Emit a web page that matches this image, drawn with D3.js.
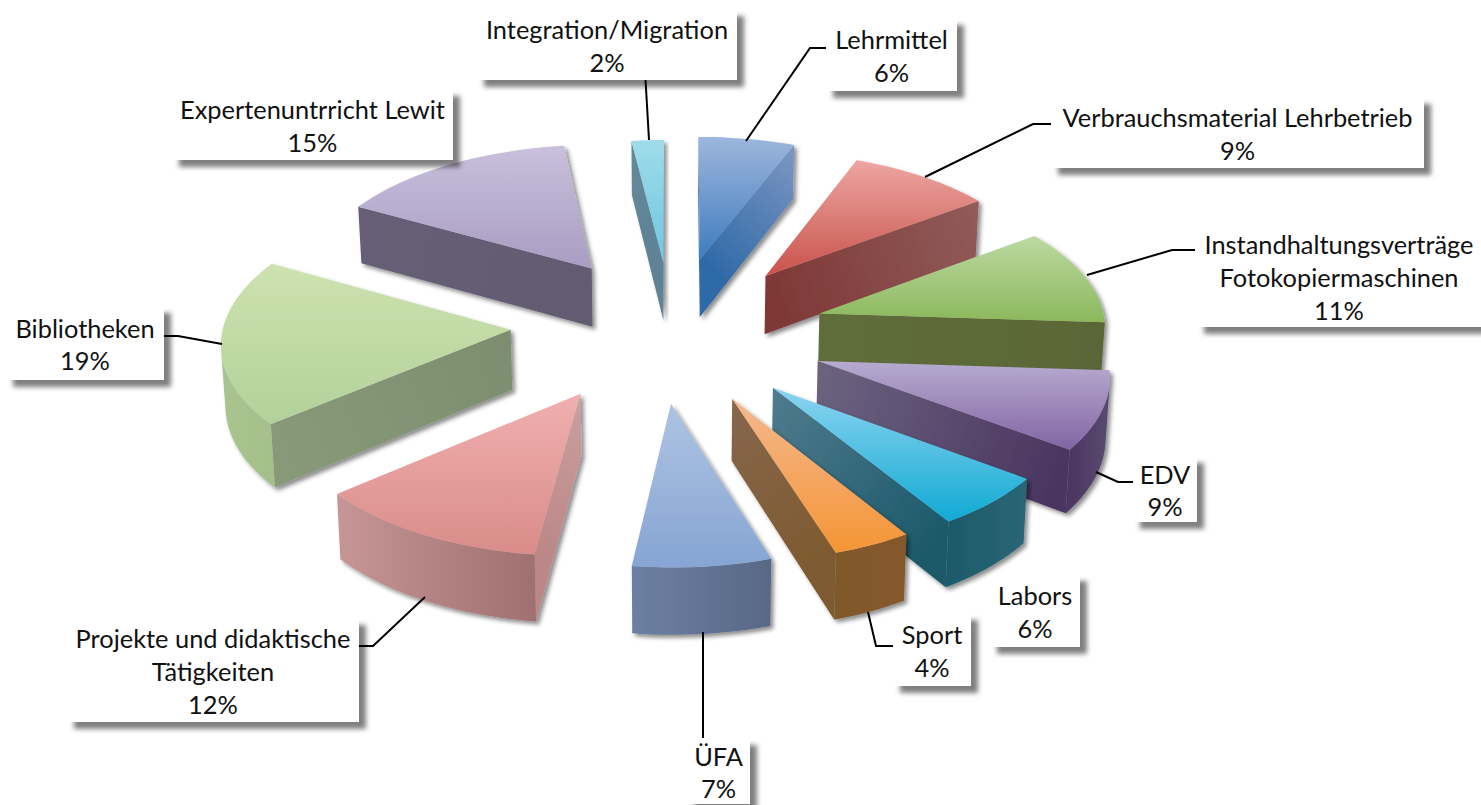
<!DOCTYPE html>
<html lang="de">
<head>
<meta charset="UTF-8"/>
<title>Exploded 3D pie</title>
<script src="https://d3js.org/d3.v7.min.js"></script>
<style>
  html, body { margin: 0; padding: 0; background: #fff; overflow: hidden; }
  text { font-family: Lato, "Open Sans", sans-serif; font-size: 25.4px; fill: #111; text-anchor: middle; }
</style>
</head>
<body>
<script>
var w = 1481, h = 805;

// data, clockwise from 12 o'clock
var categories = ["Lehrmittel", "Verbrauchsmaterial Lehrbetrieb", "Instandhaltungsverträge Fotokopiermaschinen",
                  "EDV", "Labors", "Sport", "ÜFA", "Projekte und didaktische Tätigkeiten",
                  "Bibliotheken", "Expertenuntrricht Lewit", "Integration/Migration"];
var values = [6, 9, 11, 9, 6, 4, 7, 12, 19, 15, 2];
var labelLines = [["Lehrmittel"], ["Verbrauchsmaterial Lehrbetrieb"], ["Instandhaltungsverträge", "Fotokopiermaschinen"],
                  ["EDV"], ["Labors"], ["Sport"], ["ÜFA"], ["Projekte und didaktische", "Tätigkeiten"],
                  ["Bibliotheken"], ["Expertenuntrricht Lewit"], ["Integration/Migration"]];

// colours: top face light -> dark, radial wall apex -> rim, outer wall left -> right
var topLight  = ["#9db6dc", "#eda6a2", "#bcd9a2", "#b7abd0", "#8dd4f0", "#f3b88e", "#aec3e2", "#f0b0ae", "#cde2b0", "#c8c0dc", "#9fdcea"];
var topDark   = ["#3f7cbf", "#c9534c", "#8cb85c", "#8265a3", "#10aad4", "#f59535", "#86a5d3", "#d98c8a", "#b3d19a", "#a99dc2", "#6fc6e0"];
var cutInner  = ["#2f6aa8", "#7e3836", "#5f6e3a", "#6c6480", "#507b8e", "#86674d", "#6d80a3", "#c9a0a0", "#7c8e6e", "#625b72", "#5e8296"];
var cutOuter  = ["#7e97c2", "#905c5a", "#5a6638", "#4a3560", "#1c5a6a", "#7e5a30", "#586885", "#bb8787", "#88997a", "#665f75", "#66899a"];
var rimLeft   = ["#7e97c2", "#905c5a", "#5a6638", "#4a3560", "#1c5a6a", "#80582c", "#6d80a3", "#c69596", "#a9c48f", "#665f75", "#66899a"];
var rimRight  = ["#7e97c2", "#905c5a", "#5a6638", "#5a4a70", "#2a6676", "#85592a", "#586885", "#a06f70", "#a5bf8b", "#665f75", "#66899a"];

// how each slice sits in the picture
var explode = [0.5, 0.5, 0.5, 0.5, 0.5, 0.5, 0.5, 0.5, 0.5, 0.5, 0.5];
var nudgeX  = [-1, 5, 8, 6, -3, -6, -18, -23, -21, -5, -3];
var nudgeY  = [-4, 0, 3, 7, 5, 3, 1, 0, -7, -5, 0];

// label boxes [x0, y0, x1, y1] and leader lines
var boxes = [[826, 18, 957, 91], [1051, 97, 1424, 168], [1197, 225, 1481, 327], [1133, 456, 1197, 522],
             [990, 574, 1080, 647], [893, 613, 971, 686], [687, 738, 750, 804], [67, 618, 359, 722],
             [6, 306, 164, 380], [172, 89, 453, 160], [477, 9, 737, 80]];
var leaders = [[[831, 48], [810, 48], [746, 141]],
               [[1056, 124], [1033, 124], [925, 177]],
               [[1195, 250], [1172, 250], [1087, 275]],
               [[1133, 482], [1118, 482], [1096, 472]],
               null,
               [[893, 646], [876, 646], [868, 612]],
               [[703, 738], [703, 632]],
               [[358, 646], [373, 646], [425, 597]],
               [[164, 336], [178, 336], [222, 344]],
               null,
               [[633, 71], [645, 71], [649, 140]]];

// projection of the pie plane, u to the right, v to the back, radius = 1
var cx = 675, cy = 330, scaleU = 287, scaleV = 140.6, persp = 0.073, depth = 60;

function project(u, v, i, low) {
  var d = 1 + persp * v;
  var x = cx + scaleU * u / d + nudgeX[i];
  var y = cy - scaleV * v / d + nudgeY[i];
  if (low) {
    x = cx + (x - cx) * 0.99;
    y += depth / d;
  }
  return [x, y];
}

var pie = d3.pie().sort(null).value(function(d) { return d; });
var arcs = pie(values);

var svg = d3.select("body").append("svg")
    .attr("width", w)
    .attr("height", h);

var defs = svg.append("defs");
var f1 = defs.append("filter").attr("id", "sliceShadow")
    .attr("x", "-10%").attr("y", "-10%").attr("width", "125%").attr("height", "125%");
f1.append("feDropShadow").attr("dx", 3).attr("dy", 3).attr("stdDeviation", 2)
    .attr("flood-color", "#000").attr("flood-opacity", 0.45);
var f2 = defs.append("filter").attr("id", "boxShadow")
    .attr("filterUnits", "userSpaceOnUse")
    .attr("x", 0).attr("y", 0).attr("width", w).attr("height", h);
f2.append("feDropShadow").attr("dx", 7).attr("dy", 7).attr("stdDeviation", 2.5)
    .attr("flood-color", "#000").attr("flood-opacity", 0.5);

function gradient(id, c0, c1, x1, y1, x2, y2) {
  var g = defs.append("linearGradient").attr("id", id);
  if (x1 === undefined) {
    g.attr("x1", 0).attr("y1", 0).attr("x2", 0).attr("y2", 1);
  } else {
    g.attr("gradientUnits", "userSpaceOnUse").attr("x1", x1).attr("y1", y1).attr("x2", x2).attr("y2", y2);
  }
  g.append("stop").attr("offset", 0).attr("stop-color", c0);
  g.append("stop").attr("offset", 1).attr("stop-color", c1);
  return "url(#" + id + ")";
}

var line = d3.line();
var polygon = function(pts) { return line(pts) + "Z"; };

function facesViewer(p, q, pLow) {
  return (q[0] - p[0]) * (pLow[1] - p[1]) - (q[1] - p[1]) * (pLow[0] - p[0]) < -0.01;
}

// back slices first
var order = d3.range(arcs.length).sort(function(a, b) {
  var ma = (arcs[a].startAngle + arcs[a].endAngle) / 2;
  var mb = (arcs[b].startAngle + arcs[b].endAngle) / 2;
  return Math.cos(mb) - Math.cos(ma);
});

order.forEach(function(i) {
  var a = arcs[i];
  var mid = (a.startAngle + a.endAngle) / 2;
  var ou = explode[i] * Math.sin(mid);
  var ov = explode[i] * Math.cos(mid);
  var steps = Math.max(4, Math.round((a.endAngle - a.startAngle) / 0.03));
  var angle = d3.scaleLinear().domain([0, steps]).range([a.startAngle, a.endAngle]);

  var rim = d3.range(steps + 1).map(function(k) {
    var t = angle(k);
    return { top: project(ou + Math.sin(t), ov + Math.cos(t), i, false),
             low: project(ou + Math.sin(t), ov + Math.cos(t), i, true) };
  });
  var apex = project(ou, ov, i, false);
  var apexLow = project(ou, ov, i, true);

  var g = svg.append("g").attr("class", "slice").attr("filter", "url(#sliceShadow)");

  // the two cut faces
  var first = rim[0], last = rim[steps];
  if (facesViewer(apex, first.top, apexLow)) {
    g.append("path").attr("d", polygon([apex, first.top, first.low, apexLow]))
      .attr("fill", gradient("cutA" + i, cutInner[i], cutOuter[i], apex[0], apex[1], first.top[0], first.top[1]));
  }
  if (facesViewer(last.top, apex, last.low)) {
    g.append("path").attr("d", polygon([apex, last.top, last.low, apexLow]))
      .attr("fill", gradient("cutB" + i, cutInner[i], cutOuter[i], apex[0], apex[1], last.top[0], last.top[1]));
  }

  // outer wall, only the part turned to the viewer
  var seen = [];
  for (var k = 0; k < steps; k++) {
    if (facesViewer(rim[k].top, rim[k + 1].top, rim[k].low)) {
      if (seen.length === 0) seen.push(rim[k]);
      seen.push(rim[k + 1]);
    }
  }
  if (seen.length > 1) {
    var pts = seen.map(function(s) { return s.top; })
      .concat(seen.map(function(s) { return s.low; }).reverse());
    var ex = d3.extent(pts, function(p) { return p[0]; });
    g.append("path").attr("d", polygon(pts))
      .attr("fill", gradient("rim" + i, rimLeft[i], rimRight[i], ex[0], 0, ex[1], 0));
  }

  // top face
  var outline = [apex].concat(rim.map(function(s) { return s.top; }));
  g.append("path").attr("d", polygon(outline))
    .attr("fill", gradient("top" + i, topLight[i], topDark[i]));
});

// leader lines
svg.append("g").selectAll("path")
  .data(leaders.filter(function(d) { return d; }))
  .enter()
  .append("path")
  .attr("d", function(d) { return line(d); })
  .attr("fill", "none")
  .attr("stroke", "#000")
  .attr("stroke-width", 2);

// labels
var labels = svg.append("g").selectAll("g")
  .data(categories)
  .enter()
  .append("g");

labels.append("rect")
  .attr("x", function(d, i) { return boxes[i][0]; })
  .attr("y", function(d, i) { return boxes[i][1]; })
  .attr("width", function(d, i) { return boxes[i][2] - boxes[i][0]; })
  .attr("height", function(d, i) { return boxes[i][3] - boxes[i][1]; })
  .attr("fill", "#fff")
  .attr("filter", "url(#boxShadow)");

labels.each(function(d, i) {
  var rows = labelLines[i].concat([values[i] + "%"]);
  var midX = (boxes[i][0] + boxes[i][2]) / 2;
  var midY = (boxes[i][1] + boxes[i][3]) / 2;
  var lineH = 32.8;
  d3.select(this).selectAll("text")
    .data(rows)
    .enter()
    .append("text")
    .attr("x", midX)
    .attr("y", function(r, k) { return midY + (k - (rows.length - 1) / 2) * lineH + 11; })
    .text(function(r) { return r; });
});
</script>
</body>
</html>
